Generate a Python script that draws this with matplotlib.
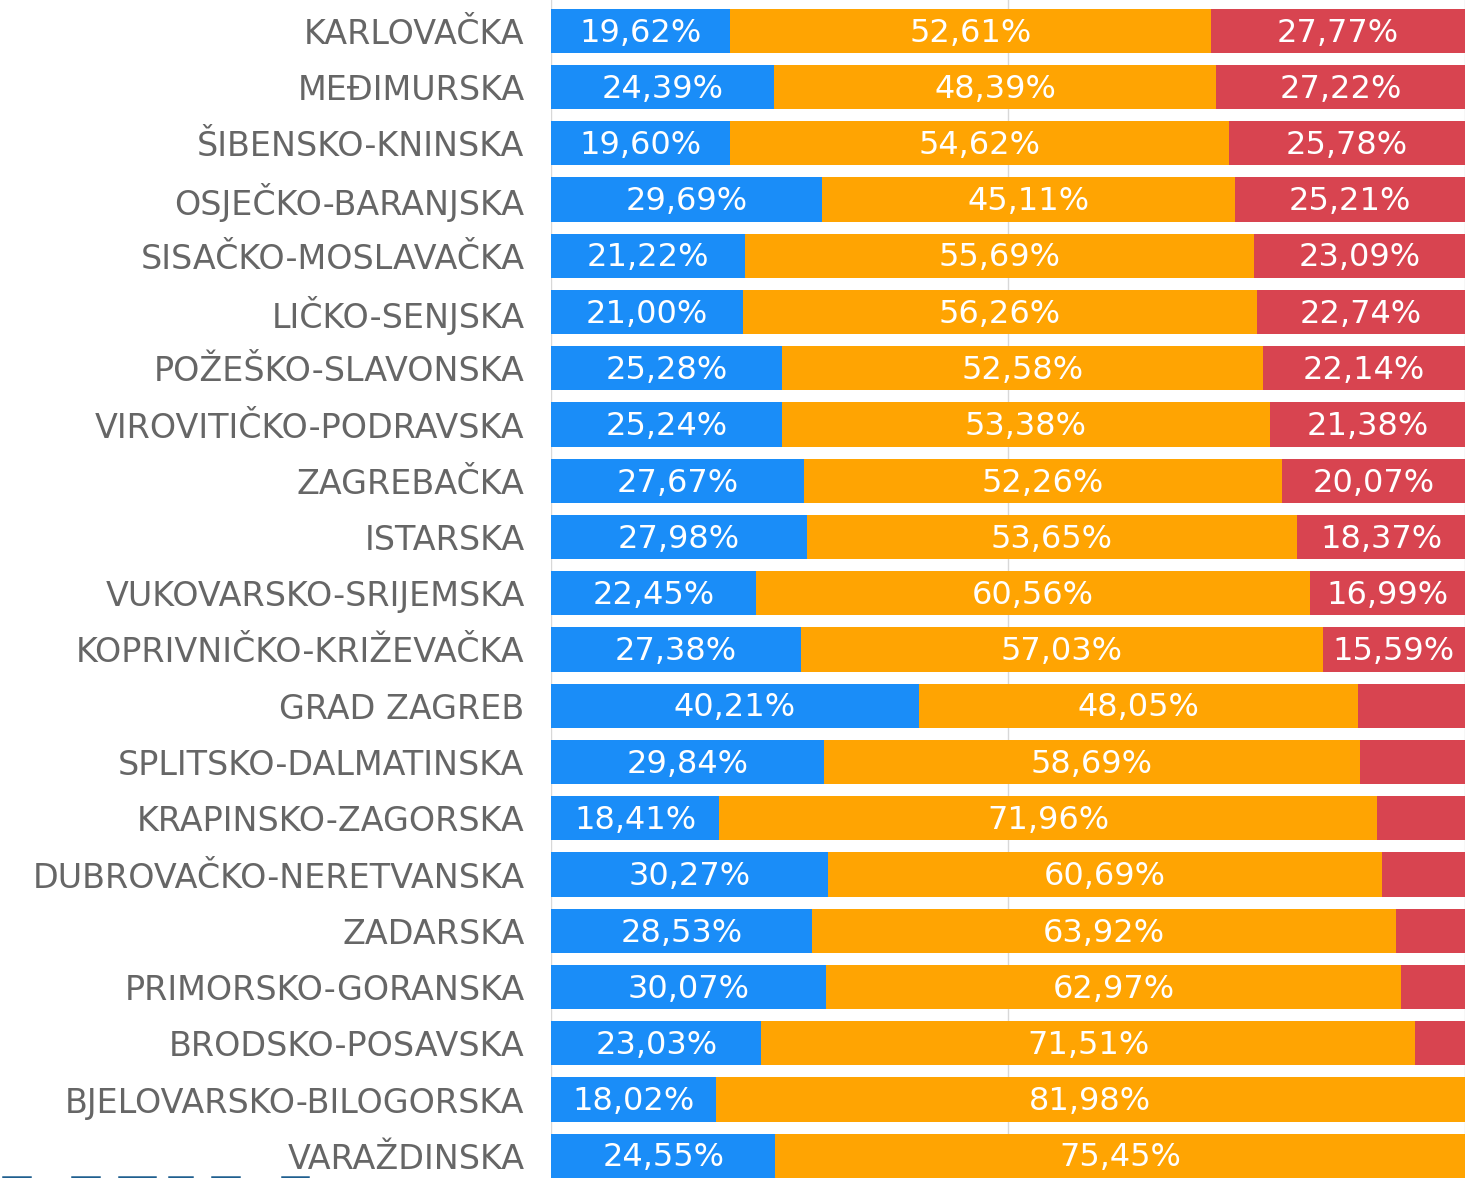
import matplotlib
matplotlib.use("Agg")
import matplotlib.pyplot as plt
from matplotlib.lines import Line2D

counties = ["KARLOVAČKA", "MEĐIMURSKA", "ŠIBENSKO-KNINSKA", "OSJEČKO-BARANJSKA",
            "SISAČKO-MOSLAVAČKA", "LIČKO-SENJSKA", "POŽEŠKO-SLAVONSKA",
            "VIROVITIČKO-PODRAVSKA", "ZAGREBAČKA", "ISTARSKA", "VUKOVARSKO-SRIJEMSKA",
            "KOPRIVNIČKO-KRIŽEVAČKA", "GRAD ZAGREB", "SPLITSKO-DALMATINSKA",
            "KRAPINSKO-ZAGORSKA", "DUBROVAČKO-NERETVANSKA", "ZADARSKA",
            "PRIMORSKO-GORANSKA", "BRODSKO-POSAVSKA", "BJELOVARSKO-BILOGORSKA",
            "VARAŽDINSKA"]
blue_vals = [19.62, 24.39, 19.60, 29.69, 21.22, 21.00, 25.28, 25.24, 27.67, 27.98,
             22.45, 27.38, 40.21, 29.84, 18.41, 30.27, 28.53, 30.07, 23.03, 18.02, 24.55]
orange_vals = [52.61, 48.39, 54.62, 45.11, 55.69, 56.26, 52.58, 53.38, 52.26, 53.65,
               60.56, 57.03, 48.05, 58.69, 71.96, 60.69, 63.92, 62.97, 71.51, 81.98, 75.45]
red_vals = [27.77, 27.22, 25.78, 25.21, 23.09, 22.74, 22.14, 21.38, 20.07, 18.37,
            16.99, 15.59, 11.74, 11.47, 9.63, 9.04, 7.55, 6.96, 5.46, 0.00, 0.00]

colors = ["#1a8df8", "#ffa402", "#d84450"]
W, H = 1478, 1178
fig = plt.figure(figsize=(W / 100, H / 100), dpi=100)
ax = fig.add_axes([551 / W, 0, 914 / W, 1])

ypos = list(range(len(counties)))
pitch = 56.25
top_center = 30.75
ax.set_ylim((H - top_center) / pitch, -top_center / pitch)
ax.set_xlim(0, 100)

for g in (0, 50, 100):
    ax.axvline(g, color="#d8d8d8", lw=1, zorder=0)

left = [0] * len(counties)
for vals, col in zip([blue_vals, orange_vals, red_vals], colors):
    ax.barh(ypos, vals, left=left, height=0.79, color=col, zorder=2)
    for y, v, l in zip(ypos, vals, left):
        if v >= 15:
            ax.text(l + v / 2, y + 0.04, f"{v:.2f}%".replace(".", ","),
                    ha="center", va="center", color="white", fontsize=23,
                    family="DejaVu Sans", zorder=3)
    left = [a + b for a, b in zip(left, vals)]

ax.set_yticks(ypos)
ax.set_yticklabels(counties, fontsize=24, color="#666666", family="DejaVu Sans")
ax.tick_params(axis="y", length=0, pad=19)
ax.tick_params(axis="x", length=0, labelbottom=False)
for s in ax.spines.values():
    s.set_visible(False)

for x0, x1 in [(3, 30), (72, 99), (119, 155), (169, 192), (212, 239), (282, 308)]:
    fig.add_artist(Line2D([x0 / W, x1 / W], [1.5 / H, 1.5 / H], color="#1f5f8f", lw=1.8))

fig.savefig("out.png", dpi=100)
